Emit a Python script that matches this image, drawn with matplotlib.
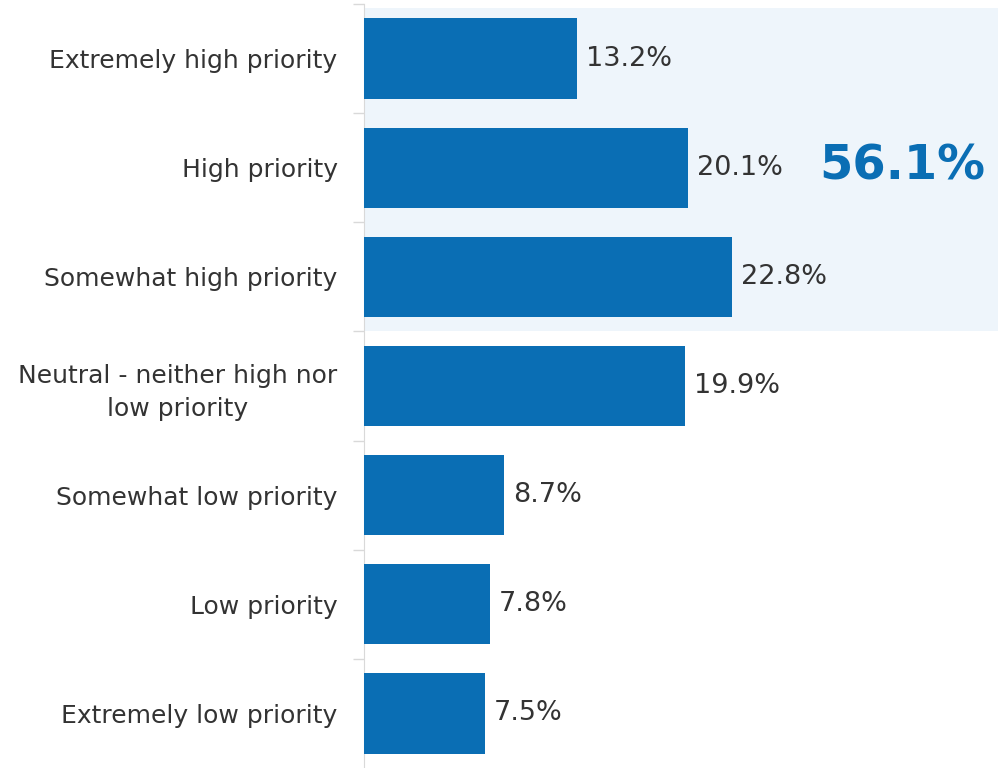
import matplotlib.pyplot as plt
from matplotlib.patches import Rectangle

OUT = "out.png"

BAR = "#0a6eb4"
SHADE = "#eef5fb"
INK = "#333333"
AXIS = "#d9d9d9"

categories = [
    "Extremely high priority",
    "High priority",
    "Somewhat high priority",
    "Neutral - neither high nor\nlow priority",
    "Somewhat low priority",
    "Low priority",
    "Extremely low priority",
]
values = [13.2, 20.1, 22.8, 19.9, 8.7, 7.8, 7.5]
total_label = "56.1%"


def main():
    plt.rcParams["font.family"] = ["DejaVu Sans"]
    fig = plt.figure(figsize=(9.98, 7.68), dpi=100)
    ax = fig.add_axes([0.3647, 0.0, 0.6353, 0.9948])

    y = list(range(len(categories)))
    xmax = 39.3
    ax.set_xlim(0, xmax)
    ax.set_ylim(len(categories) - 0.5, -0.5)

    # highlighted block behind the top three answers
    ax.add_patch(Rectangle((0, -0.46), xmax, 2.96, facecolor=SHADE,
                           edgecolor="none", zorder=0))

    ax.barh(y, values, height=0.735, color=BAR, zorder=2)
    for yi, v in zip(y, values):
        ax.text(v + 0.55, yi, f"{v:.1f}%", va="center", ha="left",
                fontsize=19.5, color=INK, zorder=3)

    ax.text(28.2, 0.98, total_label, va="center", ha="left", fontsize=34.5,
            fontweight="bold", color=BAR, zorder=3)

    ax.set_yticks(y)
    ax.set_yticklabels(categories, fontsize=18, color=INK,
                       multialignment="center", linespacing=1.45)
    ax.tick_params(axis="y", which="major", length=0, pad=19)
    ax.set_yticks([i + 0.5 for i in range(-1, len(categories) - 1)], minor=True)
    ax.tick_params(axis="y", which="minor", length=8, color=AXIS, width=1)
    ax.set_xticks([])

    for side in ("top", "right", "bottom"):
        ax.spines[side].set_visible(False)
    ax.spines["left"].set_color(AXIS)
    ax.spines["left"].set_zorder(1)
    ax.set_facecolor("white")

    fig.savefig(OUT, dpi=100)
    plt.close(fig)


if __name__ == "__main__":
    main()
